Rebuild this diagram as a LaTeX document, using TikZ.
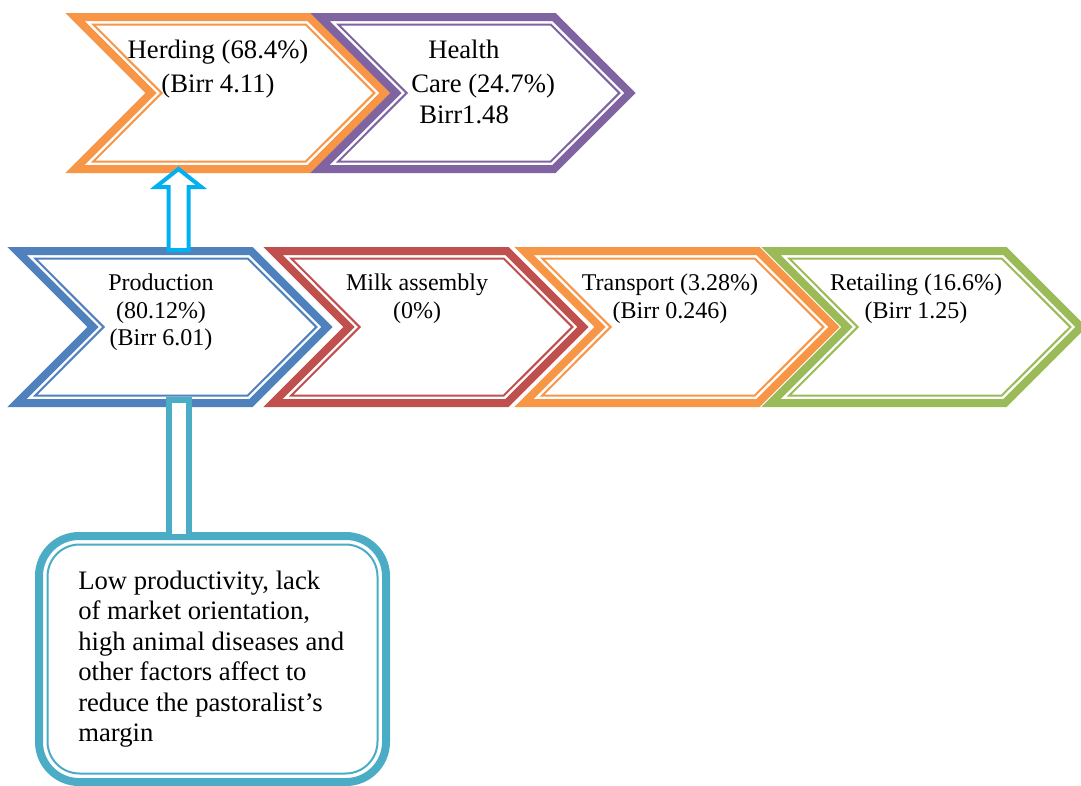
\documentclass[tikz,border=0pt]{standalone}
\usepackage{fontspec}
\setmainfont{Liberation Serif}
\usetikzlibrary{calc}
\definecolor{cblue}{HTML}{4F81BD}
\definecolor{cred}{HTML}{C0504D}
\definecolor{corange}{HTML}{F79646}
\definecolor{cgreen}{HTML}{9BBB59}
\definecolor{cpurple}{HTML}{8064A2}
\definecolor{carrow}{HTML}{00B0F0}
\definecolor{cteal}{HTML}{4BACC6}
% #1 name, #2 left x, #3 top y, #4 colour
\newcommand\chevronshape[4]{%
  \draw[band=#4] (#2,#3) -- ({#2+234},#3) -- ({#2+310},{#3+76}) -- ({#2+234},{#3+152})
      -- (#2,{#3+152}) -- ({#2+76},{#3+76}) -- cycle;
  \draw[thinband=#4] ({#2+18.2},{#3+7.5}) -- ({#2+230.8},{#3+7.5}) -- ({#2+299.4},{#3+76})
      -- ({#2+230.8},{#3+144.5}) -- ({#2+18.2},{#3+144.5}) -- ({#2+86.6},{#3+76}) -- cycle;
  \coordinate (#1) at ({#2+155},{#3+76});
}
\begin{document}
\begin{tikzpicture}[x=0.75pt,y=-0.75pt,
  band/.style={line width=6pt, draw=#1, fill=white, line join=miter},
  thinband/.style={line width=1.5pt, draw=#1, line join=miter},
  lblc/.style={anchor=base, inner sep=0pt, font=\fontsize{20}{24}\selectfont},
  lbll/.style={anchor=base west, inner sep=0pt, font=\fontsize{20}{24}\selectfont},
  lbls/.style={anchor=base, inner sep=0pt, font=\fontsize{18}{21}\selectfont},
  uparrow/.style={line width=3pt, draw=carrow, fill=white, line join=miter},
  connbar/.style={line width=4.5pt, draw=cteal, fill=white},
  boxouter/.style={line width=6pt, draw=cteal, fill=white, rounded corners=30pt},
  boxinner/.style={line width=1.5pt, draw=cteal, rounded corners=24pt},
]
\useasboundingbox (0,0) rectangle (1081,785);
\clip (0,0) rectangle (1081,785);

% top row
\chevronshape{herd}{75}{17}{corange}
\chevronshape{health}{320}{17}{cpurple}
% bottom row
\chevronshape{prod}{17}{251}{cblue}
\chevronshape{milk}{273}{251}{cred}
\chevronshape{trans}{524}{251}{corange}
\chevronshape{retail}{771}{251}{cgreen}

% labels
\node[lblc] (herd1) at (218,58) {Herding (68.4\%)};
\node[lblc] (herd2) at (218,92) {(Birr 4.11)};
\node[lbll] (health1) at (428,58) {Health};
\node[lbll] (health2) at (411,92) {Care (24.7\%)};
\node[lbll] (health3) at (419,123) {Birr1.48};

\node[lbls] (prod1) at (161,290) {Production};
\node[lbls] (prod2) at (161,318) {(80.12\%)};
\node[lbls] (prod3) at (161,345) {(Birr 6.01)};
\node[lbls] (milk1) at (417,290) {Milk assembly};
\node[lbls] (milk2) at (417,318) {(0\%)};
\node[lbls] (trans1) at (670,290) {Transport (3.28\%)};
\node[lbls] (trans2) at (670,318) {(Birr 0.246)};
\node[lbls] (retail1) at (916,290) {Retailing (16.6\%)};
\node[lbls] (retail2) at (916,318) {(Birr 1.25)};

% bottom box
\draw[boxouter] (39,536) rectangle (386,782);
\draw[boxinner] (47.5,544.5) rectangle (377.5,773.5);
\foreach \t [count=\i from 0] in {{Low productivity, lack},{of market orientation,},{high animal diseases and},{other factors affect to},{reduce the pastoralist’s},{margin}}
  \node[lbll] (boxline\i) at (78,{589+30.5*\i}) {\t};

% connectors
\coordinate (prodtop) at (178.5,251);
\coordinate (herdbot) at (178.5,169);
\coordinate (prodbot) at (179,403);
\coordinate (boxtop) at (179,536);

\draw[uparrow] ($(prodtop)+(-10,-1)$) -- ($(herdbot)+(-10,18)$) -- ($(herdbot)+(-22.75,18)$)
   -- (herdbot) -- ($(herdbot)+(22.75,18)$) -- ($(herdbot)+(10,18)$) -- ($(prodtop)+(10,-1)$) -- cycle;
\draw[connbar] ($(prodbot)+(-10,-3)$) rectangle ($(boxtop)+(10,1)$);
\end{tikzpicture}
\end{document}
